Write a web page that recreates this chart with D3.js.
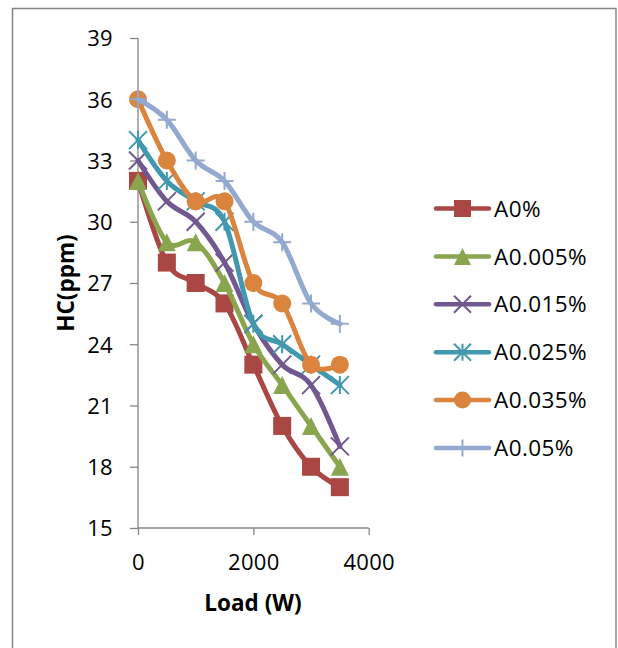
<!DOCTYPE html>
<html><head><meta charset="utf-8">
<script src="https://cdn.jsdelivr.net/npm/d3@7"></script>
<style>body{margin:0;background:#fff}svg{display:block}text{font-family:"Open Sans",sans-serif;fill:#000}</style>
</head><body><div id="c"></div>
<script>
const loads = [0, 500, 1000, 1500, 2000, 2500, 3000, 3500];
const seriesNames = ["A0%", "A0.005%", "A0.015%", "A0.025%", "A0.035%", "A0.05%"];
const a0 = [32, 28, 27, 26, 23, 20, 18, 17];
const a0005 = [32, 29, 29, 27, 24, 22, 20, 18];
const a0015 = [33, 31, 30, 28, 25, 23, 22, 19];
const a0025 = [34, 32, 31, 30, 25, 24, 23, 22];
const a0035 = [36, 33, 31, 31, 27, 26, 23, 23];
const a005 = [36, 35, 33, 32, 30, 29, 26, 25];
const yTicks = [15, 18, 21, 24, 27, 30, 33, 36, 39];
const xTicks = [0, 2000, 4000];

const values = [a0, a0005, a0015, a0025, a0035, a005];
const colors = ["#AA4643", "#89A54E", "#71588F", "#4198AF", "#DB843D", "#93A9CF"];
const markers = ["square", "triangle", "x", "star", "circle", "plus"];

const W = 618, H = 648;
const svg = d3.select("#c").append("svg").attr("width", W).attr("height", H);
svg.append("rect").attr("x", 12.5).attr("y", 8.5).attr("width", 603.5).attr("height", 700)
  .attr("fill", "#fff").attr("stroke", "#868686").attr("stroke-width", 1.5);

const x = d3.scaleLinear().domain([0, 4000]).range([138, 368.7]);
const y = d3.scaleLinear().domain([15, 39]).range([528, 38]);

const ya = svg.append("g").attr("transform", `translate(${x(0)},0)`)
  .call(d3.axisLeft(y).tickValues(yTicks).tickSize(8).tickPadding(17).tickFormat(d3.format("d")));
const xa = svg.append("g").attr("transform", `translate(0,${y(15)})`)
  .call(d3.axisBottom(x).tickValues(xTicks).tickSize(7).tickPadding(19).tickFormat(d3.format("d")));
[ya, xa].forEach(g => {
  g.select(".domain").attr("stroke", "#868686").attr("stroke-width", 1.3);
  g.selectAll(".tick line").attr("stroke", "#868686").attr("stroke-width", 1.3);
  g.selectAll("text").attr("font-size", 22).attr("letter-spacing", 0.3).attr("font-family", '"Open Sans",sans-serif').attr("fill", "#000");
});
ya.select(".domain").attr("d", `M0,${y(39)}V${y(15)}`);
xa.select(".domain").attr("d", `M${x(0)},0H${x(4000)}`);
ya.selectAll("text").attr("dy", "0.36em");

svg.append("text").attr("x", 253).attr("y", 611).attr("text-anchor", "middle")
  .attr("font-size", 22.5).attr("font-weight", "bold").text("Load (W)");
svg.append("text").attr("transform", "translate(74,283) rotate(-90)").attr("text-anchor", "middle")
  .attr("font-size", 22.5).attr("font-weight", "bold").text("HC(ppm)");

function drawMarker(g, type, cx, cy, color, s) {
  const h = s / 2;
  if (type === "square") g.append("rect").attr("x", cx - h).attr("y", cy - h).attr("width", s).attr("height", s).attr("fill", color);
  else if (type === "triangle") g.append("path").attr("d", `M${cx},${cy - h}L${cx + h},${cy + h}L${cx - h},${cy + h}Z`).attr("fill", color);
  else if (type === "circle") g.append("circle").attr("cx", cx).attr("cy", cy).attr("r", h).attr("fill", color);
  else if (type === "x") g.append("path").attr("d", `M${cx - h},${cy - h}L${cx + h},${cy + h}M${cx - h},${cy + h}L${cx + h},${cy - h}`).attr("stroke", color).attr("stroke-width", 2).attr("fill", "none");
  else if (type === "star") g.append("path").attr("d", `M${cx - h},${cy - h}L${cx + h},${cy + h}M${cx - h},${cy + h}L${cx + h},${cy - h}M${cx},${cy - h}V${cy + h}`).attr("stroke", color).attr("stroke-width", 2).attr("fill", "none");
  else if (type === "plus") g.append("path").attr("d", `M${cx - h},${cy}H${cx + h}M${cx},${cy - h}V${cy + h}`).attr("stroke", color).attr("stroke-width", 2).attr("fill", "none");
}

const line = d3.line().x(d => x(d[0])).y(d => y(d[1])).curve(d3.curveCatmullRom.alpha(0));
values.forEach((vals, i) => {
  const g = svg.append("g");
  const pts = loads.map((l, j) => [l, vals[j]]);
  g.append("path").attr("d", line(pts)).attr("fill", "none").attr("stroke", colors[i])
    .attr("stroke-width", 5).attr("stroke-linejoin", "round").attr("stroke-linecap", "round");
  pts.forEach(p => drawMarker(g, markers[i], x(p[0]), y(p[1]), colors[i], 18));
});

seriesNames.forEach((name, i) => {
  const ly = 208.5 + i * 47.9;
  const g = svg.append("g");
  g.append("line").attr("x1", 436).attr("x2", 489).attr("y1", ly).attr("y2", ly)
    .attr("stroke", colors[i]).attr("stroke-width", 4.5).attr("stroke-linecap", "round");
  drawMarker(g, markers[i], 462.5, ly, colors[i], 17);
  g.append("text").attr("x", 494).attr("y", ly).attr("dy", "0.36em").attr("font-size", 22.5).attr("letter-spacing", 0.4).text(name);
});
</script></body></html>
